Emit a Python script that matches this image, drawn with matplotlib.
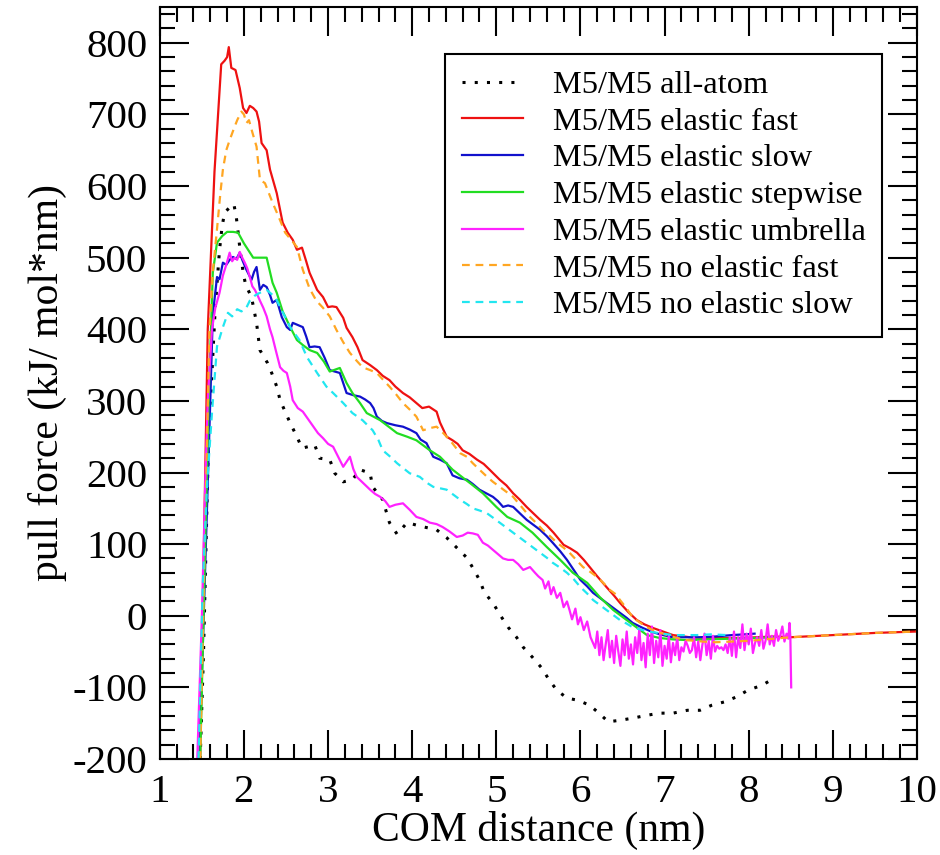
import matplotlib
matplotlib.use("Agg")
import matplotlib.pyplot as plt
from matplotlib.ticker import MultipleLocator

plt.rcParams["font.family"] = ["Liberation Serif", "DejaVu Serif"]
plt.rcParams["axes.unicode_minus"] = False

# ---- pull-force profiles (COM distance in nm, force in kJ/mol/nm) ----
allatom_x = [1.48, 1.52, 1.55, 1.58, 1.62, 1.66, 1.71, 1.74, 1.77, 1.83, 1.88, 1.91, 1.93,
             1.95, 1.99, 2.02, 2.09, 2.15, 2.19, 2.28, 2.33, 2.39, 2.43, 2.49, 2.55, 2.63,
             2.69, 2.76, 2.84, 2.90, 3.02, 3.08, 3.18, 3.29, 3.38, 3.50, 3.53, 3.65, 3.73,
             3.82, 3.94, 4.10, 4.29, 4.41, 4.53, 4.65, 4.72, 4.80, 4.86, 4.96, 5.04, 5.14,
             5.24, 5.32, 5.43, 5.54, 5.63, 5.72, 5.84, 5.97, 6.11, 6.22, 6.33, 6.47, 6.62,
             6.79, 6.94, 7.10, 7.27, 7.42, 7.56, 7.72, 7.86, 7.99, 8.16, 8.29]
allatom_y = [-200, -50, 100, 250, 340, 432, 511, 543, 563, 570, 575, 556, 536,
             515, 480, 462, 445, 409, 371, 353, 339, 320, 301, 285, 269, 250,
             234, 236, 239, 220, 218, 199, 187, 190, 204, 199, 180, 162, 130,
             114, 130, 125, 120, 109, 95, 81, 67, 50, 32, 18, 2, -16,
             -30, -44, -58, -73, -90, -104, -115, -118, -125, -136, -148, -146, -143,
             -139, -136, -136, -132, -132, -125, -120, -113, -104, -97, -88]

el_fast_x = [1.48, 1.57, 1.65, 1.73, 1.77, 1.80, 1.82, 1.85, 1.90, 1.95, 1.99, 2.03, 2.07,
             2.11, 2.15, 2.18, 2.21, 2.27, 2.31, 2.39, 2.46, 2.52, 2.58, 2.63, 2.69, 2.74,
             2.78, 2.87, 2.94, 3.00, 3.05, 3.10, 3.18, 3.22, 3.29, 3.35, 3.41, 3.50, 3.58,
             3.65, 3.73, 3.80, 3.89, 3.97, 4.05, 4.12, 4.20, 4.29, 4.33, 4.41, 4.48, 4.54,
             4.60, 4.68, 4.77, 4.85, 4.92, 5.04, 5.12, 5.20, 5.28, 5.36, 5.44, 5.52, 5.60,
             5.68, 5.80, 5.88, 5.96, 6.04, 6.11, 6.20, 6.31, 6.40, 6.47, 6.57, 6.67, 6.76,
             6.86, 6.98, 7.10, 7.30, 7.50, 7.70, 7.90, 8.10, 8.30, 8.50, 9.00, 9.50, 10.00]
el_fast_y = [-200, 400, 620, 770, 775, 780, 794, 765, 762, 737, 709, 702, 712,
             709, 704, 690, 660, 650, 623, 590, 549, 535, 525, 511, 514, 495,
             479, 455, 445, 431, 432, 431, 416, 402, 389, 375, 357, 350, 343,
             335, 329, 320, 311, 305, 297, 290, 292, 285, 270, 250, 245, 240,
             231, 226, 218, 212, 204, 190, 182, 171, 162, 152, 143, 134, 126,
             116, 99, 94, 88, 78, 68, 55, 40, 28, 18, 5, -6, -12,
             -17, -22, -27, -30, -31, -31, -31, -30, -29, -30, -27, -24, -22]

el_slow_x = [1.47, 1.60, 1.63, 1.68, 1.71, 1.75, 1.79, 1.83, 1.87, 1.91, 1.95, 1.98, 2.03,
             2.06, 2.09, 2.12, 2.15, 2.19, 2.23, 2.27, 2.31, 2.34, 2.39, 2.45, 2.51, 2.55,
             2.58, 2.64, 2.70, 2.74, 2.78, 2.84, 2.90, 2.96, 3.02, 3.08, 3.14, 3.18, 3.22,
             3.30, 3.38, 3.44, 3.50, 3.54, 3.58, 3.64, 3.70, 3.80, 3.89, 3.97, 4.05, 4.10,
             4.17, 4.25, 4.33, 4.41, 4.48, 4.56, 4.65, 4.72, 4.80, 4.88, 4.96, 5.02, 5.08,
             5.14, 5.20, 5.28, 5.36, 5.44, 5.52, 5.60, 5.67, 5.76, 5.84, 5.92, 6.00, 6.08,
             6.15, 6.23, 6.31, 6.39, 6.47, 6.55, 6.62, 6.74, 6.86, 6.98, 7.10, 7.26, 7.42,
             7.60, 7.80, 7.95, 8.07]
el_slow_y = [-200, 300, 420, 473, 470, 493, 490, 497, 501, 498, 507, 497, 483,
             476, 469, 480, 487, 455, 462, 459, 448, 437, 441, 417, 403, 399,
             409, 406, 403, 390, 375, 376, 375, 360, 343, 341, 339, 325, 311,
             308, 306, 302, 297, 290, 278, 272, 269, 266, 264, 260, 255, 246,
             241, 222, 218, 213, 196, 192, 190, 184, 176, 171, 166, 160, 152,
             154, 152, 143, 134, 127, 120, 111, 102, 90, 78, 64, 50, 41,
             32, 25, 18, 11, 4, -3, -10, -17, -23, -27, -30, -30, -30,
             -29, -27, -26, -25]

el_step_x = [1.48, 1.58, 1.63, 1.68, 1.74, 1.80, 1.87, 1.93, 2.00, 2.11, 2.18, 2.27, 2.34,
             2.39, 2.46, 2.55, 2.63, 2.70, 2.78, 2.87, 2.95, 3.02, 3.14, 3.22, 3.29, 3.38,
             3.46, 3.54, 3.62, 3.72, 3.82, 3.94, 4.05, 4.13, 4.21, 4.33, 4.48, 4.60, 4.69,
             4.84, 5.00, 5.13, 5.28, 5.43, 5.60, 5.76, 5.91, 6.08, 6.23, 6.39, 6.55, 6.71,
             6.79, 6.94, 7.10, 7.27, 7.50, 7.80, 8.10, 8.30]
el_step_y = [-200, 300, 479, 521, 530, 536, 536, 535, 520, 500, 500, 500, 465,
             451, 425, 403, 385, 378, 371, 367, 355, 341, 346, 325, 311, 297,
             283, 278, 273, 264, 255, 250, 245, 238, 231, 222, 204, 193, 185,
             171, 152, 138, 130, 116, 96, 78, 60, 46, 26, 8, -6, -20,
             -27, -31, -33, -34, -33, -32, -31, -30]

el_umb_x = [1.44, 1.50, 1.54, 1.57, 1.62, 1.66, 1.71, 1.75, 1.79, 1.83, 1.86, 1.89, 1.92,
            1.95, 1.98, 2.01, 2.04, 2.07, 2.10, 2.13, 2.16, 2.19, 2.23, 2.27, 2.31, 2.34,
            2.38, 2.43, 2.47, 2.51, 2.55, 2.58, 2.64, 2.70, 2.76, 2.82, 2.88, 2.94, 3.00,
            3.06, 3.12, 3.18, 3.22, 3.26, 3.30, 3.34, 3.42, 3.50, 3.56, 3.62, 3.68, 3.73,
            3.80, 3.89, 3.97, 4.05, 4.13, 4.21, 4.29, 4.36, 4.44, 4.53, 4.60, 4.66, 4.72,
            4.78, 4.84, 4.90, 4.96, 5.02, 5.08, 5.14, 5.20, 5.26, 5.32, 5.40, 5.46, 5.50,
            5.55, 5.58, 5.62, 5.65, 5.68, 5.72, 5.76, 5.80, 5.84, 5.87, 5.90, 5.94, 5.97,
            6.00, 6.04, 6.08, 6.12, 6.15,
            6.175, 6.20, 6.225, 6.25, 6.275, 6.30, 6.325, 6.35, 6.375, 6.40, 6.425, 6.45,
            6.475, 6.50, 6.525, 6.55, 6.575, 6.60, 6.625, 6.65, 6.675, 6.70, 6.725, 6.75,
            6.775, 6.80, 6.825, 6.85, 6.875, 6.90, 6.925, 6.95, 6.975, 7.00, 7.025, 7.05,
            7.075, 7.10, 7.125, 7.15, 7.175, 7.20, 7.225, 7.25, 7.275, 7.30, 7.325, 7.35,
            7.375, 7.40, 7.425, 7.45, 7.475, 7.50, 7.525, 7.55, 7.575, 7.60, 7.625, 7.65,
            7.675, 7.70, 7.725, 7.75, 7.775, 7.80, 7.825, 7.85, 7.875, 7.90, 7.925, 7.95,
            7.975, 8.00, 8.025, 8.05, 8.075, 8.10, 8.125, 8.15, 8.175, 8.20, 8.225, 8.25,
            8.275, 8.30, 8.325, 8.35, 8.375, 8.40, 8.425, 8.45, 8.47, 8.485, 8.495, 8.505]
el_umb_y = [-220, -2, 185, 300, 400, 430, 451, 475, 490, 507, 495, 500, 497,
            508, 500, 493, 485, 473, 460, 455, 448, 440, 430, 418, 400, 389,
            370, 347, 342, 339, 320, 301, 290, 285, 275, 265, 255, 248, 240,
            236, 222, 208, 215, 222, 205, 194, 185, 176, 170, 166, 160, 152,
            155, 157, 148, 138, 135, 130, 128, 124, 118, 110, 112, 116, 115,
            113, 102, 98, 92, 86, 80, 78, 78, 72, 64, 68, 60, 55,
            50, 38, 48, 30, 40, 25, 32, 12, 20, 8, -5, 10, -12,
            -2, -20, -8, -30, -38,
            -45, -22, -55, -30, -62, -40, -20, -58, -35, -66, -28, -50,
            -70, -33, -55, -22, -60, -40, -68, -30, -52, -18, -62, -38,
            -72, -25, -55, -15, -66, -35, -58, -20, -70, -42, -60, -28,
            -65, -38, -55, -30, -62, -44, -50, -35, -42, -52, -48, -30,
            -58, -36, -62, -40, -25, -55, -35, -60, -28, -50, -42, -46,
            -44, -48, -40, -52, -30, -56, -22, -58, -30, -45, -12, -48,
            -25, -40, -18, -52, -38, -30, -42, -20, -46, -35, -12, -40,
            -28, -42, -20, -35, -28, -15, -36, -25, -32, -10, -30, -100]

no_el_fast_x = [1.48, 1.59, 1.63, 1.68, 1.72, 1.75, 1.79, 1.83, 1.88, 1.92, 1.97, 2.00, 2.03,
                2.06, 2.10, 2.15, 2.19, 2.25, 2.34, 2.42, 2.49, 2.56, 2.63, 2.70, 2.78, 2.86,
                2.94, 3.02, 3.10, 3.18, 3.26, 3.34, 3.41, 3.50, 3.58, 3.65, 3.73, 3.81, 3.89,
                3.97, 4.05, 4.13, 4.21, 4.29, 4.37, 4.45, 4.57, 4.65, 4.72, 4.80, 4.89, 4.96,
                5.04, 5.12, 5.20, 5.30, 5.40, 5.48, 5.55, 5.64, 5.72, 5.80, 5.87, 5.95, 6.03,
                6.12, 6.20, 6.28, 6.35, 6.42, 6.47, 6.55, 6.62, 6.70, 6.79, 6.90, 7.03, 7.15,
                7.27, 7.45, 7.60, 7.80, 8.00, 8.20, 8.40, 8.50, 9.00, 9.50, 10.00]
no_el_fast_y = [-200, 400, 480, 540, 590, 623, 650, 664, 680, 692, 704, 700, 688,
                692, 675, 655, 609, 604, 577, 555, 535, 525, 515, 483, 457, 440,
                430, 418, 399, 382, 367, 356, 347, 343, 339, 330, 320, 309, 297,
                288, 278, 259, 262, 264, 255, 245, 227, 222, 213, 204, 194, 187,
                180, 173, 166, 152, 138, 129, 120, 111, 102, 95, 88, 78, 68,
                61, 54, 45, 36, 30, 22, 10, -2, -9, -16, -22, -27, -31,
                -34, -36, -37, -36, -35, -33, -31, -30, -27, -24, -22]

no_el_slow_x = [1.46, 1.51, 1.56, 1.62, 1.68, 1.75, 1.81, 1.86, 1.92, 1.97, 2.02, 2.07, 2.13,
                2.19, 2.27, 2.31, 2.37, 2.43, 2.49, 2.55, 2.61, 2.66, 2.75, 2.81, 2.87, 2.98,
                3.06, 3.18, 3.29, 3.41, 3.53, 3.60, 3.65, 3.74, 3.82, 3.97, 4.09, 4.17, 4.25,
                4.33, 4.41, 4.49, 4.57, 4.65, 4.72, 4.80, 4.89, 4.96, 5.04, 5.12, 5.20, 5.28,
                5.36, 5.44, 5.52, 5.60, 5.67, 5.76, 5.84, 5.92, 6.00, 6.08, 6.15, 6.23, 6.31,
                6.39, 6.47, 6.55, 6.62, 6.74, 6.86, 6.98, 7.10, 7.25, 7.38, 7.55, 7.74]
no_el_slow_y = [-200, 40, 180, 283, 376, 403, 423, 418, 428, 425, 428, 440, 447,
                451, 455, 451, 445, 431, 417, 403, 393, 385, 361, 350, 339, 320,
                311, 297, 283, 273, 259, 245, 231, 222, 213, 199, 194, 186, 180,
                178, 176, 169, 162, 156, 150, 147, 143, 137, 130, 123, 116, 109,
                102, 95, 88, 81, 74, 67, 60, 51, 40, 31, 22, 15, 8,
                1, -6, -11, -16, -20, -23, -25, -27, -27, -27, -26, -27]

labels = ["M5/M5 all-atom", "M5/M5 elastic fast", "M5/M5 elastic slow",
          "M5/M5 elastic stepwise", "M5/M5 elastic umbrella",
          "M5/M5 no elastic fast", "M5/M5 no elastic slow"]

fig = plt.figure(figsize=(9.4, 8.55), dpi=100)
ax = fig.add_axes([0.170, 0.1123, 0.8055, 0.8795])

lw = 1.6
ax.plot(allatom_x, allatom_y, color="black", lw=2.2, dashes=(1, 3.0), label=labels[0])
ax.plot(el_fast_x, el_fast_y, color="#ee1111", lw=lw, label=labels[1])
ax.plot(el_slow_x, el_slow_y, color="#1111cc", lw=lw, label=labels[2])
ax.plot(el_step_x, el_step_y, color="#22dd22", lw=lw, label=labels[3])
ax.plot(el_umb_x, el_umb_y, color="#ff22ff", lw=lw, label=labels[4])
ax.plot(no_el_fast_x, no_el_fast_y, color="#ffa622", lw=lw, dashes=(3.5, 2.6), label=labels[5])
ax.plot(no_el_slow_x, no_el_slow_y, color="#22e6f0", lw=lw, dashes=(3.5, 2.6), label=labels[6])

ax.set_xlim(1, 10)
ax.set_ylim(-200, 850)

ax.xaxis.set_major_locator(MultipleLocator(1))
ax.xaxis.set_minor_locator(MultipleLocator(0.2))
ax.yaxis.set_major_locator(MultipleLocator(100))
ax.yaxis.set_minor_locator(MultipleLocator(20))
ax.set_yticks(range(-200, 801, 100))

ax.tick_params(which="both", direction="in", top=True, right=True, width=1.5,
               labelsize=29.5, colors="black")
ax.tick_params(which="major", length=21, pad=9)
ax.tick_params(which="minor", length=10.5)
ax.tick_params(axis="x", which="major", pad=11)
for s in ax.spines.values():
    s.set_linewidth(1.5)

ax.set_xlabel("COM distance (nm)", fontsize=30, labelpad=0)
ax.set_ylabel("pull force (kJ/ mol*nm)", fontsize=30, labelpad=4)

leg = ax.legend(loc="upper right", bbox_to_anchor=(0.954, 0.9375), fontsize=23.3,
                frameon=True, fancybox=False, edgecolor="black", framealpha=1,
                handlelength=1.9, handletextpad=0.93, labelspacing=0.22,
                borderpad=0.5, borderaxespad=0.0)
leg.get_frame().set_linewidth(1.5)

fig.savefig("out.png", dpi=100)
